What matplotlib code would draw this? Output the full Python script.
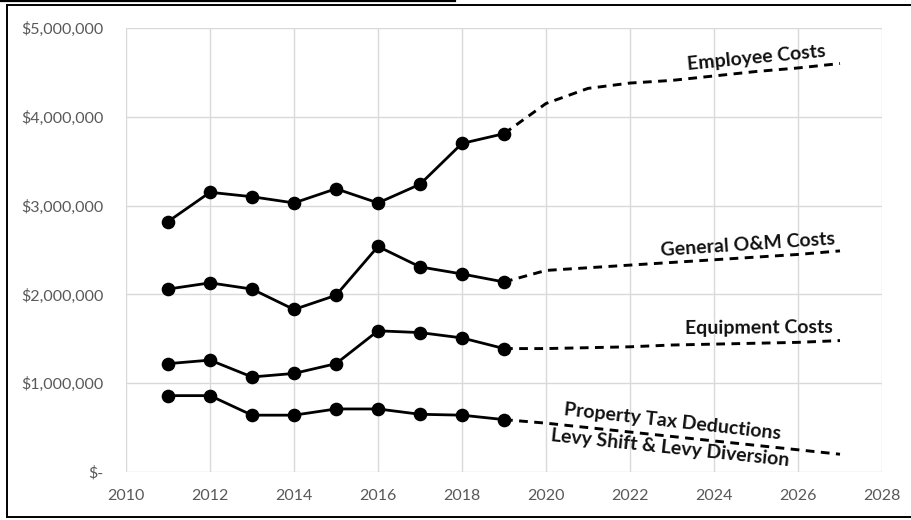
import matplotlib
matplotlib.use("Agg")
import matplotlib.pyplot as plt
from matplotlib.lines import Line2D
from matplotlib.ticker import FuncFormatter, MultipleLocator

plt.rcParams['font.family'] = ['Lato', 'DejaVu Sans']

# Actual spending by year
years = [2011, 2012, 2013, 2014, 2015, 2016, 2017, 2018, 2019]
employee = [2.82, 3.15, 3.10, 3.03, 3.19, 3.03, 3.24, 3.70, 3.81]
general_om = [2.06, 2.13, 2.06, 1.83, 1.99, 2.54, 2.31, 2.23, 2.14]
equipment = [1.22, 1.26, 1.07, 1.11, 1.22, 1.59, 1.57, 1.51, 1.39]
property_tax = [0.86, 0.86, 0.64, 0.64, 0.71, 0.71, 0.65, 0.64, 0.59]

# Projected spending
proj_years = [2019, 2020, 2021, 2022, 2023, 2024, 2025, 2026, 2027]
employee_proj = [3.81, 4.15, 4.32, 4.38, 4.41, 4.46, 4.51, 4.55, 4.60]
general_om_proj = [2.14, 2.27, 2.30, 2.33, 2.36, 2.39, 2.42, 2.45, 2.49]
equipment_proj = [1.39, 1.39, 1.40, 1.41, 1.43, 1.44, 1.45, 1.46, 1.48]
property_tax_proj = [0.59, 0.55, 0.50, 0.45, 0.40, 0.35, 0.30, 0.25, 0.20]

series_labels = ["Employee Costs", "General O&M Costs", "Equipment Costs",
                 "Property Tax Deductions\nLevy Shift & Levy Diversion"]

W, H = 911, 520
fig = plt.figure(figsize=(W / 100, H / 100), dpi=100)
ax = fig.add_axes([126 / W, 1 - 472 / H, (882 - 126) / W, (472 - 28) / H])

actuals = [employee, general_om, equipment, property_tax]
projections = [employee_proj, general_om_proj, equipment_proj, property_tax_proj]
for act, proj in zip(actuals, projections):
    ax.plot(proj_years, [v * 1e6 for v in proj], color='black', lw=2.1,
            dashes=(3.0, 2.2), zorder=3)
    ax.plot(years, [v * 1e6 for v in act], color='black', lw=2.0,
            marker='o', markersize=8.8, zorder=4)

ax.set_xlim(2010, 2028)
ax.set_ylim(0, 5e6)
ax.xaxis.set_major_locator(MultipleLocator(2))
ax.yaxis.set_major_locator(MultipleLocator(1e6))


def money(v, _):
    if v == 0:
        return "$-"
    return "${:,.0f}".format(v)


ax.yaxis.set_major_formatter(FuncFormatter(money))
ax.grid(True, color='#d9d9d9', lw=1.0, zorder=0)
for s in ax.spines.values():
    s.set_visible(False)
ax.tick_params(length=0, colors='#595959', labelsize=11.5)
ax.tick_params(axis='y', pad=16)
ax.tick_params(axis='x', pad=12)

label_style = dict(fontsize=14, fontweight='bold', color='#111111',
                   ha='center', va='center', zorder=5)
ax.text(2025.0, 4.66e6, series_labels[0], rotation=5.5, **label_style)
ax.text(2024.8, 2.556e6, series_labels[1], rotation=3.8, **label_style)
ax.text(2025.07, 1.62e6, series_labels[2], rotation=0.4, **label_style)
ptd, levy = series_labels[3].split("\n")
ax.text(2023.02, 0.563e6, ptd, rotation=-6.4, **label_style)
ax.text(2022.95, 0.27e6, levy, rotation=-6.0, **label_style)

# Frame around the chart
fig.add_artist(Line2D([7 / W, 7 / W], [1 - 4.5 / H, 1 - 517 / H],
                      color='black', lw=1.4))
fig.add_artist(Line2D([7 / W, 1.0], [1 - 4.5 / H, 1 - 4.5 / H],
                      color='black', lw=1.4))
fig.add_artist(Line2D([7 / W, 1.0], [1 - 517 / H, 1 - 517 / H],
                      color='black', lw=1.4))
fig.add_artist(Line2D([0, 455 / W], [1 - 0.7 / H, 1 - 0.7 / H],
                      color='black', lw=1.6))

fig.savefig("out.png", dpi=100)
